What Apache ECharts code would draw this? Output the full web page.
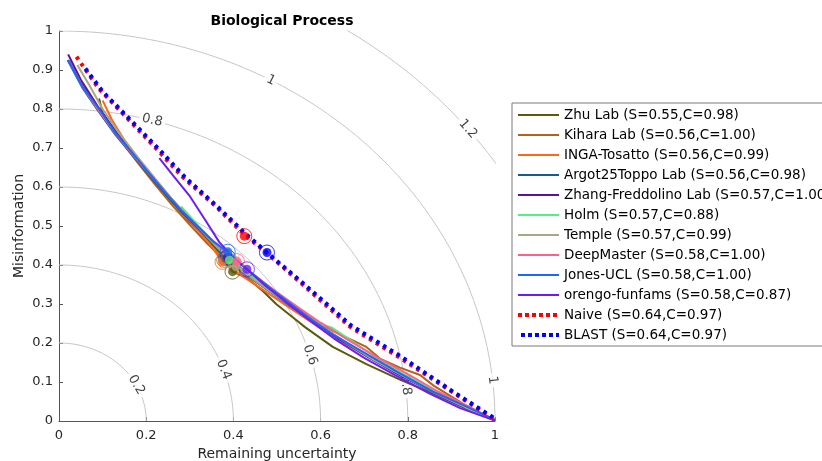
<!DOCTYPE html>
<html>
<head>
<meta charset="utf-8">
<title>Biological Process</title>
<script src="https://cdn.jsdelivr.net/npm/echarts@6.0.0/dist/echarts.min.js"></script>
<style>
    html, body { margin: 0; padding: 0; background: #fff; }
    #divChart { width: 822px; height: 461px; }
</style>
</head>
<body>
<div id="divChart"></div>
<script>
// curve data: [remaining uncertainty, misinformation]
var methodNames = [
    'Zhu Lab (S=0.55,C=0.98)',
    'Kihara Lab (S=0.56,C=1.00)',
    'INGA-Tosatto (S=0.56,C=0.99)',
    'Argot25Toppo Lab (S=0.56,C=0.98)',
    'Zhang-Freddolino Lab (S=0.57,C=1.00)',
    'Holm (S=0.57,C=0.88)',
    'Temple (S=0.57,C=0.99)',
    'DeepMaster (S=0.58,C=1.00)',
    'Jones-UCL (S=0.58,C=1.00)',
    'orengo-funfams (S=0.58,C=0.87)',
    'Naive (S=0.64,C=0.97)',
    'BLAST (S=0.64,C=0.97)'
];
var methodColors = ['#5a5a0c', '#b4611c', '#ff661a', '#165c8a', '#5a1296', '#52f07e',
    '#aaa67f', '#ff5f8a', '#1c66ff', '#6c1ef2', '#ff0000', '#0000ff'];

var zhuLab = [[0.092, 0.827], [0.10, 0.79], [0.14, 0.725], [0.18, 0.668], [0.22, 0.612], [0.26, 0.56],
    [0.30, 0.51], [0.34, 0.465], [0.37, 0.43], [0.388, 0.40], [0.398, 0.383], [0.43, 0.368], [0.467, 0.334],
    [0.498, 0.3], [0.536, 0.266], [0.565, 0.24], [0.628, 0.19], [0.705, 0.146], [0.782, 0.106],
    [0.858, 0.07], [0.93, 0.034], [1, 0.002]];
var kiharaLab = [[0.025, 0.925], [0.06, 0.85], [0.10, 0.785], [0.14, 0.722], [0.18, 0.663], [0.22, 0.607],
    [0.26, 0.553], [0.30, 0.503], [0.34, 0.455], [0.379, 0.413], [0.42, 0.38], [0.47, 0.343], [0.52, 0.306],
    [0.57, 0.27], [0.63, 0.23], [0.705, 0.19], [0.736, 0.16], [0.782, 0.137], [0.828, 0.118], [0.86, 0.09],
    [0.93, 0.042], [1, 0.002]];
var ingaTosatto = [[0.10, 0.822], [0.12, 0.775], [0.15, 0.72], [0.19, 0.66], [0.23, 0.603], [0.27, 0.55],
    [0.31, 0.50], [0.345, 0.455], [0.375, 0.408], [0.42, 0.372], [0.47, 0.335], [0.52, 0.297], [0.57, 0.26],
    [0.63, 0.215], [0.70, 0.17], [0.77, 0.127], [0.85, 0.08], [0.93, 0.038], [1, 0.002]];
var argotToppo = [[0.02, 0.925], [0.055, 0.852], [0.09, 0.795], [0.13, 0.733], [0.17, 0.679], [0.21, 0.626],
    [0.25, 0.574], [0.29, 0.526], [0.33, 0.481], [0.36, 0.45], [0.383, 0.417], [0.43, 0.375], [0.48, 0.335],
    [0.53, 0.295], [0.58, 0.258], [0.64, 0.212], [0.71, 0.165], [0.78, 0.121], [0.86, 0.074], [0.93, 0.036],
    [1, 0.002]];
var zhangFreddolino = [[0.021, 0.94], [0.05, 0.875], [0.09, 0.805], [0.13, 0.742], [0.17, 0.688], [0.21, 0.634],
    [0.25, 0.58], [0.29, 0.53], [0.33, 0.485], [0.36, 0.452], [0.387, 0.42], [0.43, 0.38], [0.48, 0.34],
    [0.53, 0.30], [0.58, 0.26], [0.64, 0.213], [0.71, 0.163], [0.78, 0.118], [0.86, 0.072], [0.93, 0.035],
    [1, 0.002]];
var holm = [[0.28, 0.55], [0.32, 0.50], [0.36, 0.452], [0.391, 0.413], [0.43, 0.38], [0.48, 0.34], [0.53, 0.30],
    [0.57, 0.268], [0.60, 0.248], [0.625, 0.24], [0.66, 0.214], [0.72, 0.168], [0.79, 0.12], [0.86, 0.078],
    [0.93, 0.04], [1, 0.003]];
var temple = [[0.042, 0.913], [0.07, 0.86], [0.10, 0.80], [0.14, 0.735], [0.18, 0.677], [0.22, 0.622],
    [0.26, 0.568], [0.30, 0.52], [0.34, 0.472], [0.37, 0.438], [0.406, 0.396], [0.45, 0.36], [0.50, 0.32],
    [0.55, 0.282], [0.60, 0.245], [0.66, 0.20], [0.72, 0.158], [0.79, 0.115], [0.86, 0.073], [0.93, 0.036],
    [1, 0.002]];
var deepMaster = [[0.022, 0.925], [0.055, 0.855], [0.09, 0.798], [0.13, 0.736], [0.17, 0.682], [0.21, 0.63],
    [0.25, 0.578], [0.29, 0.53], [0.33, 0.486], [0.37, 0.445], [0.408, 0.41], [0.45, 0.372], [0.50, 0.33],
    [0.55, 0.29], [0.60, 0.252], [0.66, 0.21], [0.73, 0.163], [0.80, 0.12], [0.87, 0.075], [0.94, 0.036],
    [1, 0.002]];
var jonesUcl = [[0.021, 0.926], [0.054, 0.857], [0.092, 0.80], [0.13, 0.738], [0.169, 0.686], [0.207, 0.635],
    [0.245, 0.584], [0.283, 0.537], [0.322, 0.495], [0.352, 0.462], [0.387, 0.434], [0.43, 0.39], [0.48, 0.345],
    [0.52, 0.31], [0.567, 0.27], [0.628, 0.222], [0.705, 0.172], [0.782, 0.122], [0.858, 0.075], [0.935, 0.037],
    [1, 0.003]];
var orengoFunfams = [[0.23, 0.674], [0.26, 0.632], [0.299, 0.578], [0.335, 0.516], [0.368, 0.458], [0.40, 0.42],
    [0.431, 0.389], [0.47, 0.35], [0.52, 0.305], [0.57, 0.262], [0.63, 0.212], [0.70, 0.162], [0.77, 0.118],
    [0.85, 0.07], [0.92, 0.033], [1, 0.001]];
var naive = [[0.04, 0.934], [0.092, 0.851], [0.168, 0.763], [0.23, 0.69], [0.283, 0.626], [0.36, 0.55],
    [0.425, 0.478], [0.477, 0.43], [0.552, 0.357], [0.667, 0.242], [0.782, 0.162], [0.897, 0.078], [1, 0.003]];
var blast = [[0.055, 0.912], [0.10, 0.845], [0.17, 0.765], [0.235, 0.69], [0.29, 0.624], [0.365, 0.548],
    [0.43, 0.478], [0.477, 0.432], [0.555, 0.358], [0.67, 0.245], [0.785, 0.165], [0.90, 0.078], [1, 0.006]];

var methodCurves = [zhuLab, kiharaLab, ingaTosatto, argotToppo, zhangFreddolino, holm, temple,
    deepMaster, jonesUcl, orengoFunfams, naive, blast];

// optimum (minimum S) points, same order as methodNames
var optimumX = [0.398, 0.379, 0.375, 0.383, 0.387, 0.391, 0.406, 0.408, 0.387, 0.431, 0.425, 0.477];
var optimumY = [0.383, 0.413, 0.408, 0.417, 0.420, 0.413, 0.396, 0.410, 0.434, 0.389, 0.474, 0.432];

// iso-S contour levels and where their labels sit (level, angle in degrees)
var contourLevels = [0.2, 0.4, 0.6, 0.8, 1, 1.2];
var contourLabels = [[0.2, 27.6], [0.4, 19.2], [0.6, 16.4], [0.8, 6.6], [0.8, 74.5],
    [1, 60.9], [1, 6], [1.2, 38.6]];

var xTicks = [0, 0.2, 0.4, 0.6, 0.8, 1];
var yTicks = [0, 0.1, 0.2, 0.3, 0.4, 0.5, 0.6, 0.7, 0.8, 0.9, 1];

var chart = {};
chart.gridW = 436;
chart.gridH = 390;
chart.font = 'DejaVu Sans';

function $each(arr, fn) {
    for (var i = 0; i < arr.length; i++) fn(arr[i], i);
}

chart.arcSeries = function () {
    var list = [];
    $each(contourLevels, function (r) {
        var pts = [];
        for (var a = 0; a <= 90; a += 1) {
            var t = a * Math.PI / 180;
            pts.push([r * Math.cos(t), r * Math.sin(t)]);
        }
        list.push({
            type: 'line', data: pts, symbol: 'none', silent: true, z: 1,
            lineStyle: {color: '#c6c6c6', width: 1}
        });
    });
    return list;
};

chart.labelSeries = function () {
    var data = [];
    $each(contourLabels, function (item) {
        var r = item[0], t = item[1] * Math.PI / 180;
        var dx = -Math.sin(t) * chart.gridW;
        var dy = Math.cos(t) * chart.gridH;
        var ang = Math.atan2(dy, dx) * 180 / Math.PI;
        if (ang > 90) ang -= 180;
        if (ang < -90) ang += 180;
        data.push({
            value: [r * Math.cos(t), r * Math.sin(t)],
            label: {rotate: ang, formatter: String(r)}
        });
    });
    return {
        type: 'scatter', data: data, symbolSize: 0, silent: true, z: 1,
        label: {
            show: true, position: 'inside', color: '#111', fontSize: 13, fontFamily: chart.font,
            backgroundColor: '#fff', padding: [0, 3]
        }
    };
};

chart.init = function () {
    var myChart = echarts.init(document.getElementById('divChart'));
    var series = chart.arcSeries();
    series.push(chart.labelSeries());
    var legendData = [];

    $each(methodNames, function (name, i) {
        var dotted = i >= 10;
        var ls = dotted ? {
            color: methodColors[i], width: 4, type: [3.5, 4.5], dashOffset: i === 11 ? 4 : 0, cap: 'butt'
        } : {color: methodColors[i], width: 2};
        series.push({
            name: name,
            type: 'line',
            data: methodCurves[i],
            symbol: 'none',
            z: 3,
            color: methodColors[i],
            lineStyle: ls
        });
        legendData.push({
            name: name,
            lineStyle: dotted ? {color: methodColors[i], width: 4, type: [4, 3], cap: 'butt'}
                : {color: methodColors[i], width: 2}
        });
    });

    var dots = [], rings = [];
    $each(optimumX, function (x, i) {
        dots.push({value: [x, optimumY[i]], itemStyle: {color: methodColors[i]}});
        rings.push({value: [x, optimumY[i]], itemStyle: {color: 'rgba(0,0,0,0)', borderColor: methodColors[i]}});
    });
    series.push({type: 'scatter', data: rings, symbolSize: 15, z: 4, silent: true,
        itemStyle: {borderWidth: 1}});
    series.push({type: 'scatter', data: dots, symbolSize: 9, z: 5, silent: true});

    var option = {
        animation: false,
        backgroundColor: '#fff',
        title: {
            text: 'Biological Process',
            left: 277,
            textAlign: 'center',
            top: 9,
            textStyle: {fontSize: 14, fontWeight: 'bold', color: '#000', fontFamily: chart.font}
        },
        grid: {left: 59, right: 327, top: 31, bottom: 40, outerBoundsMode: 'none', containLabel: false},
        legend: {
            data: legendData,
            orient: 'vertical',
            left: 512,
            top: 103,
            itemWidth: 41,
            itemHeight: 14,
            itemGap: 6,
            padding: [5, 10, 4, 4],
            borderColor: '#7a7a7a',
            borderWidth: 1,
            backgroundColor: '#fff',
            selectedMode: false,
            itemStyle: {opacity: 0},
            textStyle: {fontSize: 13.5, color: '#000', fontFamily: chart.font}
        },
        xAxis: {
            type: 'value', min: 0, max: 1, interval: 0.2,
            name: 'Remaining uncertainty', nameLocation: 'middle', nameGap: 24,
            nameTextStyle: {fontSize: 14, color: '#262626', fontFamily: chart.font},
            axisLine: {lineStyle: {color: '#555'}},
            axisTick: {inside: true, length: 4, lineStyle: {color: '#555'}},
            axisLabel: {fontSize: 13, color: '#262626', fontFamily: chart.font, margin: 8,
                formatter: function (v) { return xTicks.indexOf(v) >= 0 ? String(v) : ''; }},
            splitLine: {show: false}
        },
        yAxis: {
            type: 'value', min: 0, max: 1, interval: 0.1,
            name: 'Misinformation', nameLocation: 'middle', nameGap: 33, nameMoveOverlap: false,
            nameTextStyle: {fontSize: 14, color: '#262626', fontFamily: chart.font},
            axisLine: {show: true, lineStyle: {color: '#555'}},
            axisTick: {show: true, inside: true, length: 4, lineStyle: {color: '#555'}},
            axisLabel: {fontSize: 13, color: '#262626', fontFamily: chart.font, margin: 6,
                formatter: function (v) {
                    var m = Math.round(v * 10) / 10;
                    return yTicks.indexOf(m) >= 0 ? String(m) : '';
                }},
            splitLine: {show: false}
        },
        series: series
    };
    myChart.setOption(option);
};

chart.init();
</script>
</body>
</html>
